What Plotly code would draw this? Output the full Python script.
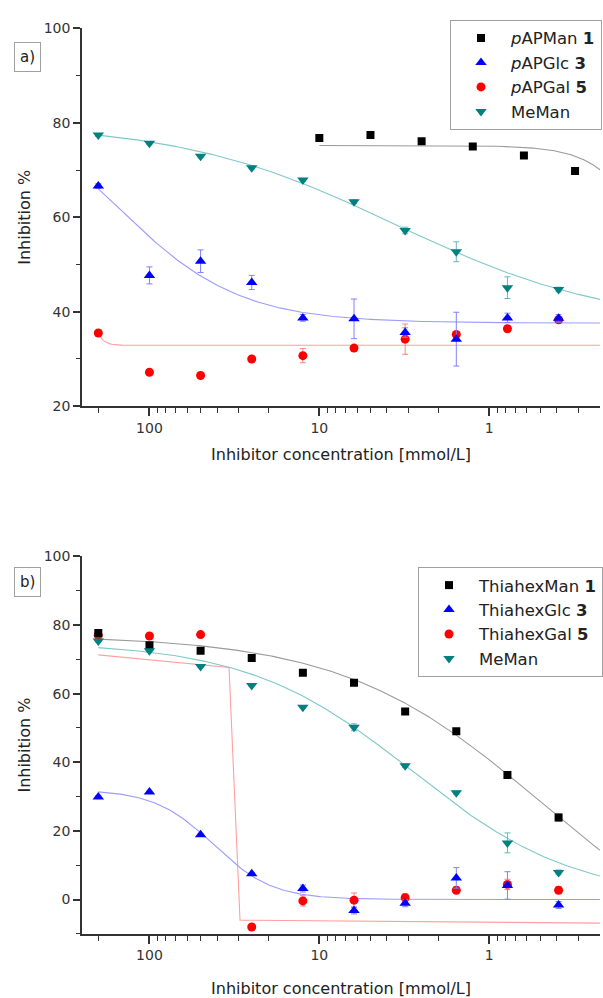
import numpy as np
import plotly.graph_objects as go

# ---------------- data ----------------
conc = [200, 100, 50, 25, 12.5, 6.25, 3.125, 1.5625, 0.78125, 0.390625]
conc_man_a = [10, 5, 2.5, 1.25, 0.625, 0.3125]

# panel a
a_man = [76.8, 77.4, 76.1, 75.0, 73.1, 69.8]
a_man_err = [0.3, 0.3, 0.3, 0.3, 0.3, 0.3]
a_glc = [66.6, 47.7, 50.7, 46.2, 38.7, 38.5, 35.6, 34.2, 38.7, 38.6]
a_glc_err = [0.5, 1.8, 2.4, 1.5, 0.7, 4.2, 1.0, 5.7, 1.0, 0.8]
a_gal = [35.5, 27.2, 26.5, 30.0, 30.7, 32.3, 34.2, 35.2, 36.4, 38.3]
a_gal_err = [0.3, 0.3, 0.3, 0.3, 1.5, 0.3, 3.2, 0.5, 0.5, 0.5]
a_meman = [77.4, 75.7, 72.9, 70.5, 67.9, 63.3, 57.2, 52.7, 45.1, 44.7]
a_meman_err = [0.3, 0.3, 0.3, 0.3, 0.3, 0.4, 0.7, 2.1, 2.3, 0.5]

# panel b
b_man = [77.7, 74.1, 72.5, 70.4, 66.1, 63.2, 54.8, 49.0, 36.3, 23.9]
b_man_err = [0.3, 0.3, 0.3, 0.3, 0.3, 0.3, 0.3, 0.3, 0.8, 1.0]
b_glc = [29.9, 31.3, 18.9, 7.5, 3.2, -3.2, -1.1, 6.3, 4.1, -1.6]
b_glc_err = [0.3, 0.3, 0.3, 0.3, 1.0, 1.0, 1.0, 3.0, 4.0, 1.0]
b_gal = [77.0, 76.8, 77.2, -8.0, -0.4, -0.2, 0.5, 2.7, 4.4, 2.7]
b_gal_err = [0.3, 0.3, 0.3, 0.3, 1.5, 2.1, 1.2, 1.0, 1.5, 1.0]
b_meman = [75.3, 72.5, 67.9, 62.4, 56.0, 50.2, 39.0, 31.1, 16.5, 7.9]
b_meman_err = [0.3, 0.3, 0.3, 0.3, 0.3, 1.0, 0.5, 0.5, 2.9, 0.7]

# dose-response fit parameters: bottom, top, IC50, hill
fit_a_man = [0.0, 75.2, 0.080, 2.55]
fit_a_glc = [37.6, 87.6, 159.0, 1.2]
fit_a_gal = [32.9, 40.0, 210.0, 15.0]
fit_a_meman = [37.0, 80.0, 3.58, 0.682]
fit_b_man = [-20.0, 77.0, 0.5, 0.743]
fit_b_glc = [0.0, 32.0, 42.0, 2.5]
fit_b_meman = [0.0, 75.0, 2.86, 0.9]
# ThiahexGal fit curve vertices
fit_b_gal_x = [200, 34.0, 29.3, 0.222]
fit_b_gal_y = [71.3, 67.6, -6.0, -6.9]

x_major = [100, 10, 1]
x_minor = [200, 90, 80, 70, 60, 50, 40, 30, 20, 9, 8, 7, 6, 5, 4, 3, 2,
           0.9, 0.8, 0.7, 0.6, 0.5, 0.4, 0.3]

FONT = "DejaVu Sans"
C_BLACK, C_BLUE, C_RED, C_TEAL = "#000000", "#0000ff", "#ff0000", "#008080"
F_BLACK, F_BLUE, F_RED, F_TEAL = "#9a9a9a", "#9c9cff", "#ffa0a0", "#80c8c8"
E_BLACK, E_BLUE, E_RED, E_TEAL = "#555555", "#8080ff", "#ff8080", "#66b8b8"

X_END = 0.222


def dose(p, x0, x1):
    b, t, c, h = p
    xs = np.logspace(np.log10(x0), np.log10(x1), 300)
    return xs, b + (t - b) / (1 + (c / xs) ** h)


fig = go.Figure()


def add_fit(xs, ys, color, xa, ya):
    fig.add_trace(go.Scatter(x=xs, y=ys, mode="lines", line=dict(color=color, width=1.1),
                             showlegend=False, hoverinfo="skip", xaxis=xa, yaxis=ya))


def add_pts(xs, ys, err, name, color, ecolor, symbol, size, rank, xa, ya, legend):
    fig.add_trace(go.Scatter(
        x=xs, y=ys, mode="markers", name=name, legend=legend, legendrank=rank,
        marker=dict(color=color, symbol=symbol, size=size, line=dict(width=0)),
        error_y=dict(type="data", array=err, color=ecolor, thickness=1, width=3),
        xaxis=xa, yaxis=ya))


# panel a fits
add_fit(*dose(fit_a_gal, 200, X_END), F_RED, "x", "y")
add_fit(*dose(fit_a_glc, 200, X_END), F_BLUE, "x", "y")
add_fit(*dose(fit_a_man, 10, X_END), F_BLACK, "x", "y")
add_fit(*dose(fit_a_meman, 200, X_END), F_TEAL, "x", "y")
# panel b fits
add_fit(fit_b_gal_x, fit_b_gal_y, F_RED, "x2", "y2")
add_fit(*dose(fit_b_glc, 200, X_END), F_BLUE, "x2", "y2")
add_fit(*dose(fit_b_man, 200, X_END), F_BLACK, "x2", "y2")
add_fit(*dose(fit_b_meman, 200, X_END), F_TEAL, "x2", "y2")

# panel a points
add_pts(conc, a_gal, a_gal_err, "<i>p</i>APGal <b>5</b>", C_RED, E_RED, "circle", 9, 3, "x", "y", "legend")
add_pts(conc, a_glc, a_glc_err, "<i>p</i>APGlc <b>3</b>", C_BLUE, E_BLUE, "triangle-up", 10, 2, "x", "y", "legend")
add_pts(conc_man_a, a_man, a_man_err, "<i>p</i>APMan <b>1</b>", C_BLACK, E_BLACK, "square", 8, 1, "x", "y", "legend")
add_pts(conc, a_meman, a_meman_err, "MeMan", C_TEAL, E_TEAL, "triangle-down", 10, 4, "x", "y", "legend")
# panel b points
add_pts(conc, b_gal, b_gal_err, "ThiahexGal <b>5</b>", C_RED, E_RED, "circle", 9, 3, "x2", "y2", "legend2")
add_pts(conc, b_glc, b_glc_err, "ThiahexGlc <b>3</b>", C_BLUE, E_BLUE, "triangle-up", 10, 2, "x2", "y2", "legend2")
add_pts(conc, b_man, b_man_err, "ThiahexMan <b>1</b>", C_BLACK, E_BLACK, "square", 8, 1, "x2", "y2", "legend2")
add_pts(conc, b_meman, b_meman_err, "MeMan", C_TEAL, E_TEAL, "triangle-down", 10, 4, "x2", "y2", "legend2")

W, H = 603, 998
XL, XR = 82, 600
x_dom = [XL / W, XR / W]
ya_dom = [1 - 404.7 / H, 1 - 20.7 / H]
yb_dom = [1 - 940.9 / H, 1 - 557.3 / H]
x_rng = [2.397, -0.652]

axis_common = dict(showline=True, linecolor="#333333", linewidth=1.5, ticks="outside",
                   tickcolor="#333333", tickwidth=1.5, showgrid=False, zeroline=False,
                   tickfont=dict(family=FONT, size=14, color="#333333"),
                   title_font=dict(family=FONT, size=16, color="#222222"))


def xaxis(anchor, standoff):
    return dict(axis_common, type="log", range=x_rng, autorange=False, domain=x_dom,
                anchor=anchor, tickmode="array", tickvals=x_major,
                ticktext=[str(v) for v in x_major], ticklen=8,
                minor=dict(tickmode="array", tickvals=x_minor, ticks="outside", ticklen=5,
                           tickcolor="#333333", tickwidth=1.2),
                title=dict(text="Inhibitor concentration [mmol/L]", standoff=standoff))


def yaxis(anchor, rng, dom):
    return dict(axis_common, range=rng, autorange=False, domain=dom, anchor=anchor,
                tick0=0, dtick=20, ticklen=7,
                minor=dict(dtick=10, tick0=0, ticks="outside", ticklen=4,
                           tickcolor="#333333", tickwidth=1.2),
                title=dict(text="Inhibition %", standoff=9))


legend_common = dict(bgcolor="white", bordercolor="#a0a0a0", borderwidth=1,
                     font=dict(family=FONT, size=16.5, color="#222222"),
                     xanchor="right", yanchor="top", traceorder="normal",
                     itemsizing="trace", itemwidth=50)

fig.update_layout(
    width=W, height=H, margin=dict(l=0, r=0, t=0, b=0),
    paper_bgcolor="white", plot_bgcolor="white",
    font=dict(family=FONT),
    xaxis=xaxis("y", 14), yaxis=yaxis("x", [20, 100], ya_dom),
    xaxis2=xaxis("y2", 20), yaxis2=yaxis("x2", [-10, 100], yb_dom),
    legend=dict(legend_common, x=602 / W, y=1 - 12 / H),
    legend2=dict(legend_common, x=603 / W, y=1 - 568 / H),
    annotations=[
        dict(text="a)", xref="paper", yref="paper", x=27 / W, y=1 - 50 / H,
             xanchor="center", yanchor="middle",
             showarrow=False, font=dict(family=FONT, size=15, color="#222222"),
             bordercolor="#a0a0a0", borderwidth=1, borderpad=5, bgcolor="white"),
        dict(text="b)", xref="paper", yref="paper", x=28 / W, y=1 - 583 / H,
             xanchor="center", yanchor="middle",
             showarrow=False, font=dict(family=FONT, size=15, color="#222222"),
             bordercolor="#a0a0a0", borderwidth=1, borderpad=5, bgcolor="white"),
    ],
)

fig.write_html("out.html")
